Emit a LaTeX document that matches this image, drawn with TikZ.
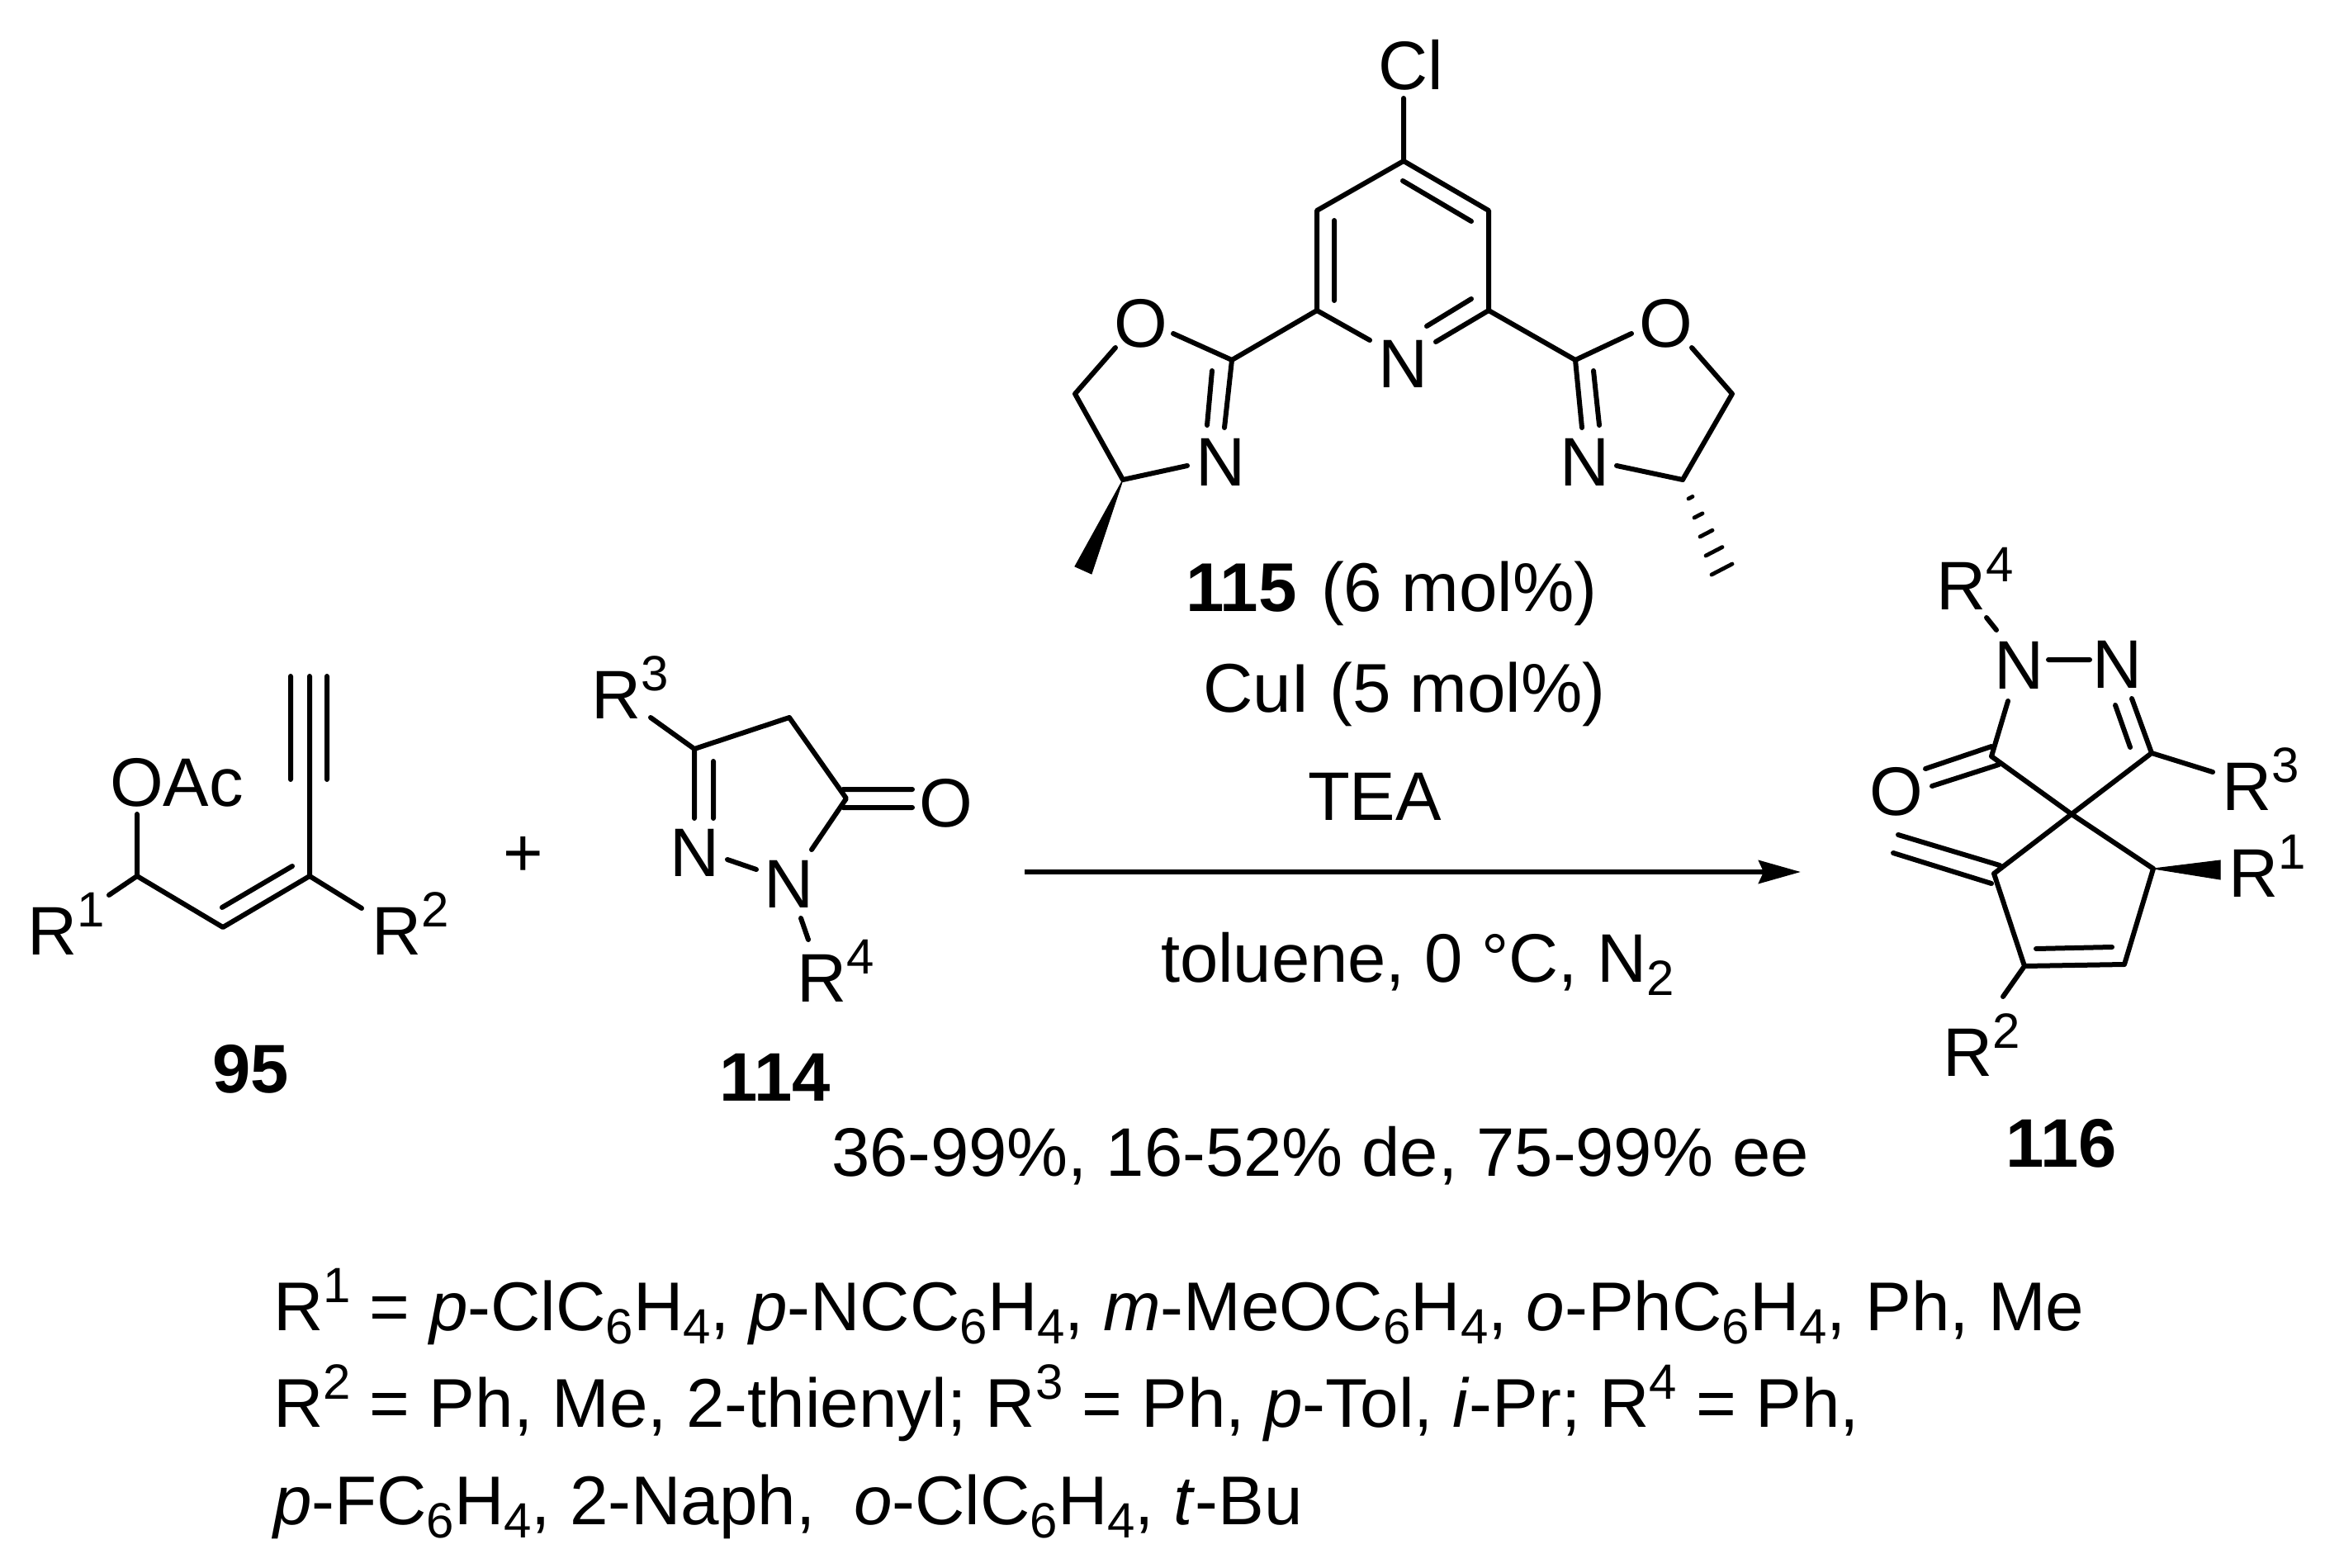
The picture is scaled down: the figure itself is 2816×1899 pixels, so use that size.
\documentclass[tikz,border=0pt]{standalone}
\usepackage{fontspec}
\setmainfont{Liberation Sans}
\usetikzlibrary{arrows.meta,calc}
\newcommand\upidx[1]{\raisebox{17pt}{\fontsize{30}{30}\selectfont #1}}
\newcommand\dnidx[1]{\raisebox{-8pt}{\fontsize{30}{30}\selectfont #1}}
\tikzset{
  x=0.5pt,y=-0.5pt,
  lab/.style={inner sep=0pt,outer sep=0pt,font=\fontsize{41.6}{50}\selectfont,text=black},
  atom/.style={lab,anchor=base},
  txt/.style={lab,anchor=base west},
  wide/.style={txt,font=\fontsize{41.8}{50}\selectfont},
  bond/.style={line width=3pt,line cap=round,line join=round,black},
  wedgebond/.style={fill=black,draw=black,line width=0.5pt,line join=miter},
  hashbond/.style={line width=2.4pt,line cap=round,black},
  rxn/.style={line width=3pt,black,-{Stealth[length=25.5pt,width=14pt,inset=3pt]}}
}
\begin{document}
\begin{tikzpicture}
\useasboundingbox (0,0) rectangle (2816,1899);
% ---------- ligand 115 ----------
\node[atom] (cl) at (1709,109) {Cl};
\node[atom] (npy) at (1700,470) {N};
\node[atom] (ola) at (1382,421) {O};
\node[atom] (nla) at (1479,588) {N};
\node[atom] (olb) at (2018,421) {O};
\node[atom] (nlb) at (1920,588) {N};
\coordinate (clb) at (1700,119);
\coordinate (c4) at (1700,195);
\coordinate (c3) at (1595,255);
\coordinate (c5) at (1803,255);
\coordinate (c2) at (1595,376);
\coordinate (c6) at (1803,376);
\coordinate (n2e) at (1659,412);
\coordinate (n6e) at (1739,414);
\coordinate (i1a) at (1616,267);
\coordinate (i1b) at (1616,364);
\coordinate (i2a) at (1699,219);
\coordinate (i2b) at (1782,268);
\coordinate (i3a) at (1782,362);
\coordinate (i3b) at (1728,395);
\draw[bond] (clb) -- (c4) -- (c3) -- (c2) -- (n2e);
\draw[bond] (c4) -- (c5) -- (c6) -- (n6e);
\draw[bond] (i1a) -- (i1b) (i2a) -- (i2b) (i3a) -- (i3b);
% left oxazoline
\coordinate (la) at (1492,436);
\coordinate (lo) at (1421,404);
\coordinate (lb) at (1351,421);
\coordinate (lc) at (1302,477);
\coordinate (ld) at (1360,581);
\coordinate (ln) at (1438,564);
\coordinate (lna) at (1483,518);
\coordinate (li1) at (1468,449);
\coordinate (li2) at (1462,515);
\coordinate (lw1) at (1302,686);
\coordinate (lw2) at (1322,695);
\draw[bond] (c2) -- (la) -- (lo) (lb) -- (lc) -- (ld) -- (ln) (la) -- (lna) (li1) -- (li2);
\fill[wedgebond] (ld) -- (lw1) -- (lw2) -- cycle;
% right oxazoline
\coordinate (ra) at (1908,436);
\coordinate (ro) at (1976,404);
\coordinate (rb) at (2049,421);
\coordinate (rc) at (2098,477);
\coordinate (rd) at (2038,581);
\coordinate (rn) at (1958,564);
\coordinate (rna) at (1916,518);
\coordinate (ri1) at (1930,449);
\coordinate (ri2) at (1937,515);
\coordinate (rh1) at (2073,696);
\coordinate (rh2) at (2098,683);
\draw[bond] (c6) -- (ra) -- (ro) (rb) -- (rc) -- (rd) -- (rn) (ra) -- (rna) (ri1) -- (ri2);
\foreach \t in {0.2,0.4,0.6,0.8,1.0}{
  \draw[hashbond] ($(rd)!\t!(rh1)$) -- ($(rd)!\t!(rh2)$);
}
% ---------- conditions ----------
\node[wide] (cat) at (1436,740) {\textbf{115}\hspace{3pt}\ (6 mol\%)};
\node[wide] (cui) at (1457,862) {CuI (5 mol\%)};
\node[txt] (tea) at (1584,993) {TEA};
\node[txt] (sol) at (1406,1189) {toluene, 0 °C, N\dnidx{2}};
\node[txt] (yld) at (1007,1424) {36-99\%, 16-52\% de, 75-99\% ee};
\coordinate (arra) at (1241,1056);
\coordinate (arrb) at (2181,1056);
\draw[rxn] (arra) -- (arrb);
% ---------- 95 ----------
\node[txt] (oac) at (133,976) {OAc};
\node[txt] (r1a) at (33,1156) {R\upidx{1}};
\node[txt] (r2a) at (450,1156) {R\upidx{2}};
\node[atom] (n95) at (304,1323) {\textbf{95}};
\coordinate (oe) at (166,986);
\coordinate (a1) at (166,1061);
\coordinate (a1r) at (132,1084);
\coordinate (a2) at (270,1123);
\coordinate (a3) at (375,1061);
\coordinate (a3r) at (438,1100);
\coordinate (ai1) at (269,1099);
\coordinate (ai2) at (354,1049);
\coordinate (yt) at (375,819);
\coordinate (yla) at (352,819);
\coordinate (ylb) at (352,944);
\coordinate (yra) at (396,819);
\coordinate (yrb) at (396,944);
\draw[bond] (oe) -- (a1) -- (a2) -- (a3) -- (a3r) (a1) -- (a1r) (ai1) -- (ai2) (a3) -- (yt) (yla) -- (ylb) (yra) -- (yrb);
\node[lab,anchor=center] (plus) at (634,1037) {+};
% ---------- 114 ----------
\node[txt] (r3b) at (716,870) {R\upidx{3}};
\node[txt] (r4b) at (965,1213) {R\upidx{4}};
\node[atom] (ob) at (1146,1001) {O};
\node[atom] (n1b) at (842,1061) {N};
\node[atom] (n2b) at (956,1099) {N};
\node[atom] (n114) at (939,1333) {\textbf{114}};
\coordinate (b1) at (841,907);
\coordinate (b1r) at (788,869);
\coordinate (b2) at (956,869);
\coordinate (b3) at (1025,967);
\coordinate (b3n) at (983,1029);
\coordinate (bd) at (841,991);
\coordinate (bi1) at (864,922);
\coordinate (bi2) at (864,991);
\coordinate (bn1) at (881,1041);
\coordinate (bn2) at (916,1053);
\coordinate (bo1) at (1021,956);
\coordinate (bo2) at (1105,956);
\coordinate (bo3) at (1021,978);
\coordinate (bo4) at (1105,978);
\coordinate (br1) at (970,1112);
\coordinate (br2) at (979,1138);
\draw[bond] (b1r) -- (b1) -- (b2) -- (b3) -- (b3n) (b1) -- (bd) (bi1) -- (bi2) (bn1) -- (bn2) (bo1) -- (bo2) (bo3) -- (bo4) (br1) -- (br2);
% ---------- 116 ----------
\node[txt] (r4c) at (2345,738) {R\upidx{4}};
\node[atom] (n1c) at (2446,834) {N};
\node[atom] (n2c) at (2565,833) {N};
\node[atom] (oc) at (2297,987) {O};
\node[txt] (r3c) at (2691,981) {R\upidx{3}};
\node[txt] (r1c) at (2699,1086) {R\upidx{1}};
\node[txt] (r2c) at (2353,1303) {R\upidx{2}};
\node[atom] (n116) at (2497,1413) {\textbf{116}};
\coordinate (cr4a) at (2406,748);
\coordinate (cr4b) at (2418,763);
\coordinate (cnna) at (2481,799);
\coordinate (cnnb) at (2531,799);
\coordinate (cn1) at (2432,849);
\coordinate (cco) at (2412,916);
\coordinate (co1) at (2412,904);
\coordinate (co2) at (2332,931);
\coordinate (co3) at (2421,926);
\coordinate (co4) at (2340,952);
\coordinate (csp) at (2509,986);
\coordinate (ccn) at (2606,912);
\coordinate (cn2) at (2582,846);
\coordinate (cni1) at (2580,905);
\coordinate (cni2) at (2562,854);
\coordinate (cr3) at (2680,935);
\coordinate (cx) at (2415,1058);
\coordinate (ce1) at (2422,1048);
\coordinate (ce2) at (2299,1011);
\coordinate (ce3) at (2412,1070);
\coordinate (ce4) at (2293,1033);
\coordinate (cr1) at (2608,1052);
\coordinate (cw1) at (2689,1042);
\coordinate (cw2) at (2689,1065);
\coordinate (cch) at (2573,1168);
\coordinate (cr2) at (2452,1170);
\coordinate (cii1) at (2466,1149);
\coordinate (cii2) at (2558,1147);
\coordinate (cr2e) at (2426,1207);
\draw[bond] (cr4a) -- (cr4b) (cnna) -- (cnnb) (cn1) -- (cco) -- (csp) -- (cr1) -- (cch) -- (cr2) -- (cx) -- (csp) -- (ccn) -- (cn2) (cni1) -- (cni2) (ccn) -- (cr3) (co1) -- (co2) (co3) -- (co4) (ce1) -- (ce2) (ce3) -- (ce4) (cii1) -- (cii2) (cr2) -- (cr2e);
\fill[wedgebond] (cr1) -- (cw1) -- (cw2) -- cycle;
% ---------- substituent lines ----------
\node[wide] (l1) at (331,1611) {R\upidx{1} = \textit{p}-ClC\dnidx{6}H\dnidx{4}, \textit{p}-NCC\dnidx{6}H\dnidx{4}, \textit{m}-MeOC\dnidx{6}H\dnidx{4}, \textit{o}-PhC\dnidx{6}H\dnidx{4}, Ph, Me};
\node[wide] (l2) at (331,1728) {R\upidx{2} = Ph, Me, 2-thienyl; R\upidx{3} = Ph, \textit{p}-Tol,\ \textit{i}-Pr; R\upidx{4} = Ph,};
\node[wide] (l3) at (331,1846) {\textit{p}-FC\dnidx{6}H\dnidx{4}, 2-Naph,\ \ \textit{o}-ClC\dnidx{6}H\dnidx{4}, \textit{t}-Bu};
\end{tikzpicture}
\end{document}
